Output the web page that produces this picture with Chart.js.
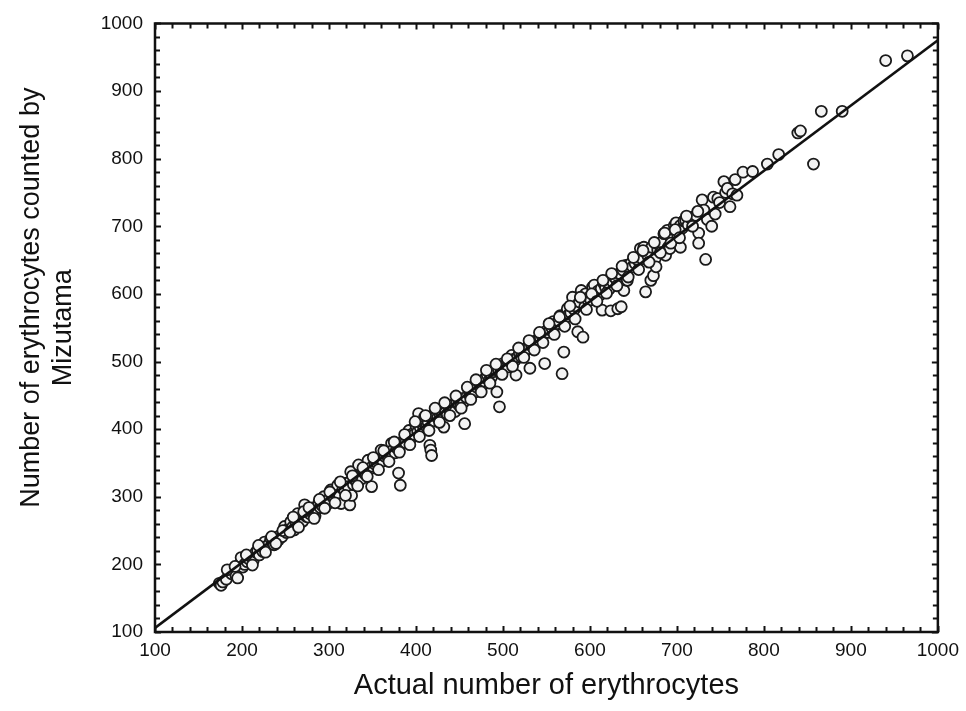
<!DOCTYPE html>
<html>
<head>
<meta charset="utf-8">
<script src="https://cdn.jsdelivr.net/npm/chart.js@4/dist/chart.umd.min.js"></script>
<style>
  html, body { margin: 0; padding: 0; background: #ffffff; }
  #wrap { width: 966px; height: 711px; }
</style>
</head>
<body>
<div id="wrap"><canvas id="c" width="966" height="711"></canvas></div>
<script>
// ---- data ----
const actualCounts = [
  174,176,178,182,185,188,190,193,195,197,199,201,203,206,208,211,213,216,218,220,222,224,226,228,231,233,235,237,240,242,244,246,249,251,
  253,256,258,260,262,264,266,268,270,272,274,276,278,280,282,284,286,288,290,292,294,296,298,300,302,304,306,308,310,312,314,316,318,320,322,324,325,326,328,330,332,334,336,338,340,342,345,347,349,350,
  353,355,358,360,362,364,366,368,370,372,374,376,378,380,382,384,386,388,390,392,394,396,398,400,402,403,405,407,409,410,412,414,416,417,418,419,421,423,425,426,428,430,432,434,436,438,440,442,444,445,447,449,451,
  453,455,456,458,460,462,464,466,468,470,472,474,476,478,480,482,484,486,487,489,491,493,495,496,497,498,500,502,504,506,508,510,512,514,515,517,519,521,523,525,527,529,531,533,535,537,539,541,543,545,547,548,550,
  552,554,556,558,560,562,564,566,568,570,572,574,576,578,580,582,584,586,588,590,592,594,595,597,599,601,603,605,607,609,611,613,614,616,618,620,622,624,626,628,630,632,634,636,638,639,641,643,645,647,649,
  652,655,658,660,662,664,665,667,670,671,673,675,676,678,680,682,685,687,689,690,692,694,697,699,701,704,704,706,708,710,713,716,719,722,725,725,729,731,733,735,740,742,744,747,749,
  754,756,758,761,764,767,769,776,787,804,817,839,842,857,866,890,940,965,
  183,192,205,212,219,227,234,239,247,255,259,265,271,277,283,289,295,301,307,313,319,327,333,339,344,351,357,363,369,375,381,387,393,399,404,411,415,422,427,433,439,446,452,
  459,463,469,475,481,485,492,499,505,511,518,524,530,536,542,546,553,559,565,571,577,583,589,596,602,608,615,619,625,631,637,644,650,656,661,668,674,681,686,693,698,703,711,718,724
];
const mizutamaCounts = [
  172,169,174,178,190,186,192,184,180,199,210,196,200,204,208,211,206,218,221,214,225,219,233,226,230,238,232,229,240,236,243,241,256,247,
  252,263,255,251,258,275,262,268,264,288,271,270,275,283,278,272,282,290,284,287,300,292,289,296,310,300,298,305,317,303,290,312,309,320,315,288,337,302,318,325,322,347,330,327,336,333,354,341,315,345,
  348,350,357,369,353,360,362,359,367,379,370,365,372,335,317,378,383,380,390,398,386,393,392,405,396,423,402,408,400,418,404,410,376,369,361,414,412,419,417,428,420,424,403,425,422,430,428,434,437,426,439,436,433,
  445,440,408,447,460,450,452,459,455,462,470,461,465,471,476,480,472,480,477,485,488,455,487,433,492,487,497,494,492,492,500,509,503,502,480,507,512,507,517,515,520,519,490,523,526,530,529,532,535,538,541,497,545,
  543,547,550,559,553,556,560,568,482,514,565,578,570,572,595,577,582,544,588,605,536,581,600,592,595,591,610,613,600,604,598,608,576,615,610,620,607,575,618,625,622,578,630,581,635,605,642,620,638,645,640,
  645,650,667,652,669,603,660,655,620,669,627,652,640,665,672,676,689,657,694,669,667,680,701,705,686,669,701,697,708,709,702,712,714,716,690,675,739,724,651,710,700,743,718,741,735,
  766,750,756,729,748,769,746,780,781,792,806,838,841,792,870,870,945,952,
  192,197,214,199,228,218,241,231,250,248,270,255,278,284,268,296,283,307,291,322,302,331,316,343,330,358,340,368,352,381,366,392,377,411,389,420,398,431,410,439,420,449,431,
  462,444,473,455,487,468,496,481,504,493,520,506,531,517,543,528,556,540,566,552,582,563,595,577,600,589,620,601,630,612,641,625,654,636,664,647,676,661,690,675,695,683,715,700,722
];
// regression line end points (at x = 100 and x = 1000)
const fitX = [100, 1000];
const fitY = [106, 975];
// axis ticks
const axisMin = 100;
const axisMax = 1000;
const majorStep = 100;
const minorStep = 20;
const xTitle = 'Actual number of erythrocytes';
const yTitle = ['\u00a0\u00a0\u00a0\u00a0\u00a0\u00a0\u00a0\u00a0Number of erythrocytes counted by', 'Mizutama'];

const points = actualCounts.map((x, i) => ({ x: x, y: mizutamaCounts[i] }));
const fitLine = fitX.map((x, i) => ({ x: x, y: fitY[i] }));

const FONT = "'Liberation Sans', Arial, sans-serif";

const frameTicks = {
  id: 'frameTicks',
  afterDatasetsDraw(chart) {
    const ctx = chart.ctx;
    const a = chart.chartArea;
    const xs = chart.scales.x, ys = chart.scales.y;
    ctx.save();
    ctx.strokeStyle = '#111';
    ctx.lineWidth = 2.5;
    ctx.beginPath();
    ctx.rect(a.left, a.top, a.right - a.left, a.bottom - a.top);
    ctx.stroke();
    ctx.lineWidth = 2;
    ctx.beginPath();
    for (let v = axisMin; v <= axisMax; v += minorStep) {
      const len = (v % majorStep === 0) ? 6 : 5;
      const px = Math.round(xs.getPixelForValue(v)) + 0.5;
      const py = Math.round(ys.getPixelForValue(v)) + 0.5;
      ctx.moveTo(px, a.bottom); ctx.lineTo(px, a.bottom - len);
      ctx.moveTo(px, a.top); ctx.lineTo(px, a.top + len);
      ctx.moveTo(a.left, py); ctx.lineTo(a.left + len, py);
      ctx.moveTo(a.right, py); ctx.lineTo(a.right - len, py);
    }
    ctx.stroke();
    ctx.restore();
  }
};

new Chart(document.getElementById('c'), {
  type: 'scatter',
  data: {
    datasets: [
      {
        type: 'line',
        label: 'fit',
        data: fitLine,
        borderColor: '#111',
        borderWidth: 2.6,
        pointRadius: 0,
        fill: false,
        tension: 0,
        order: 1
      },
      {
        label: 'samples',
        data: points,
        pointStyle: 'circle',
        pointRadius: 5.5,
        pointBorderWidth: 1.8,
        pointBorderColor: '#1a1a1a',
        pointBackgroundColor: '#f3f3f3',
        order: 2
      }
    ]
  },
  options: {
    responsive: false,
    devicePixelRatio: 1,
    animation: false,
    layout: { padding: { top: 23, right: 24, left: 0, bottom: 0 } },
    plugins: {
      legend: { display: false },
      tooltip: { enabled: false }
    },
    scales: {
      x: {
        type: 'linear',
        position: 'bottom',
        min: axisMin,
        max: axisMax,
        grid: { display: false, drawTicks: false },
        border: { display: false },
        ticks: {
          stepSize: majorStep,
          padding: 7,
          color: '#111',
          font: { family: FONT, size: 19 },
          maxRotation: 0,
          callback: (v) => String(v)
        },
        title: {
          display: true,
          text: xTitle,
          color: '#111',
          font: { family: FONT, size: 29 },
          padding: { top: 0, bottom: 8 }
        },
        afterFit(scale) { scale.height = 79; }
      },
      y: {
        type: 'linear',
        position: 'left',
        min: axisMin,
        max: axisMax,
        grid: { display: false, drawTicks: false },
        border: { display: false },
        ticks: {
          stepSize: majorStep,
          padding: 12,
          color: '#111',
          font: { family: FONT, size: 19 },
          callback: (v) => String(v)
        },
        title: {
          display: true,
          text: yTitle,
          color: '#111',
          font: { family: FONT, size: 27, lineHeight: 1.2 },
          padding: { top: 15, bottom: 0 }
        },
        afterFit(scale) { scale.width = 155; }
      }
    }
  },
  plugins: [frameTicks]
});
</script>
</body>
</html>
